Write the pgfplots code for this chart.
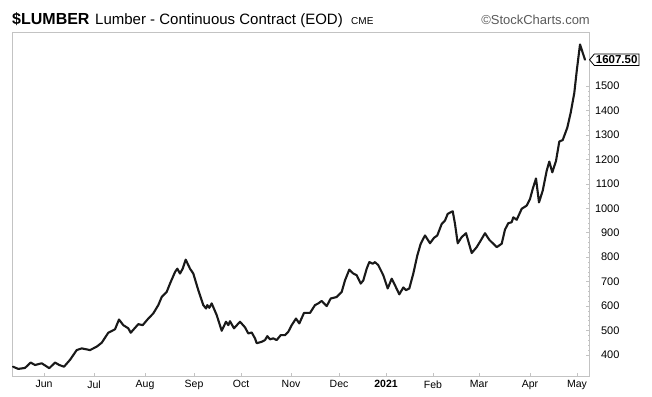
\documentclass[border=0pt]{standalone}
\usepackage{fontspec}
\setmainfont{Liberation Sans}
\usepackage{pgfplots}
\pgfplotsset{compat=1.18}
\usetikzlibrary{shapes.symbols}
\definecolor{framegray}{RGB}{195,195,195}
\definecolor{scgray}{RGB}{90,90,90}
\begin{document}
\begin{tikzpicture}
\begin{axis}[
  scale only axis, width=577pt, height=344pt,
  xmin=12, xmax=589, ymin=314, ymax=1721,
  clip=false,
  axis line style={framegray, line width=0.8pt},
  tick style={framegray, line width=0.6pt},
  major tick length=3pt, minor tick length=1.5pt,
  xtick pos=lower, ytick pos=upper, yticklabel pos=upper,
  xtick={44,94,145,194,241,291,339,386,433,479,530,577},
  xticklabels={Jun,Jul,Aug,Sep,Oct,Nov,Dec,\textbf{2021},Feb,Mar,Apr,May},
  ytick={400,500,...,1500},
  minor y tick num=4,
  /pgf/number format/assume math mode=true,
  /pgf/number format/1000 sep={},
  xticklabel style={font=\fontsize{10.5}{10.5}\selectfont, yshift=-1pt},
  yticklabel style={font=\fontsize{11}{11}\selectfont, anchor=east, xshift=34pt},
]
\addplot[black!90, line width=2.1pt, line join=round, line cap=round] coordinates {
(13,352) (18.3,343) (25,347) (30.7,369) (35,359) (41.7,366) (49.3,346) (55,369) (59.3,359) (64,352)
(70,380) (76.7,420) (81.7,427) (90,420) (96.7,434) (101.7,450) (108.3,491) (115,505) (119,545) (123.3,522)
(128.3,509) (130.7,491) (138.3,526) (142.7,522) (148.3,549) (153.3,570) (158.3,604) (161.7,637) (166.7,658) (170,692)
(175,739) (177.3,753) (180,733) (182.7,753) (185.7,790) (190,753) (193.3,733) (198.3,665) (203.3,604) (206,590)
(207.3,604) (209.3,593) (211.7,611) (216.7,563) (221.7,499) (226,536) (228.3,522) (230,538) (234,509) (240,536)
(245,513) (248.3,488) (251.7,492) (255,468) (256.7,448) (261.7,454) (265,461) (267.3,477) (270,464) (273.3,468)
(276.7,461) (280.7,481) (285,481) (288.3,495) (291.7,522) (296,549) (299.3,529) (304,572) (310,572) (315,604)
(318.3,611) (321.7,621) (326.7,600) (330.7,631) (336.7,637) (341.7,658) (345,705) (349.3,749) (353.3,733) (356.7,726)
(360.7,692) (363.3,705) (366.7,753) (369.3,780) (372.7,773) (375,780) (378.3,767) (383.3,726) (387.7,672) (391.7,712)
(395,685) (399.3,648) (403.3,676) (406,665) (409.3,672) (413.3,733) (417.3,807) (420.7,855) (425,889) (430,857)
(434,879) (437.3,889) (441.7,936) (445,950) (447.7,977) (452.7,988) (455,936) (457.7,857) (461.7,882) (466,898)
(471.7,817) (476.7,841) (480.7,868) (485,898) (489.3,871) (496.7,841) (501.7,855) (505,913) (508.3,939) (511.7,943)
(513.3,963) (516.7,953) (521.7,998) (526.7,1011) (530,1038) (532.7,1079) (536,1122) (539,1024) (542.7,1072) (546.7,1154)
(549.3,1191) (552.3,1147) (556,1194) (559.3,1273) (562.7,1279) (567.3,1330) (570.7,1391) (574.3,1472) (576.7,1561) (580,1670)
(585,1607.5)
};
\node[signal, signal to=west, signal pointer angle=100, draw=black, line width=0.8pt, fill=white,
  font=\bfseries\fontsize{11.5}{11.5}\selectfont, inner sep=1.6pt, anchor=west] at (axis cs:589,1607.5) {1607.50};
\end{axis}
\pgfresetboundingbox
\path[use as bounding box] ([xshift=-12pt,yshift=-20pt]current axis.south west) rectangle ([xshift=640pt,yshift=376pt]current axis.south west);
\node[anchor=base west, inner sep=0, font=\bfseries\fontsize{16}{16}\selectfont] at ([yshift=7pt]current axis.north west) {\$LUMBER};
\node[anchor=base west, inner sep=0, font=\fontsize{15}{15}\selectfont] at ([xshift=83pt,yshift=7pt]current axis.north west) {Lumber - Continuous Contract (EOD)};
\node[anchor=base west, inner sep=0, font=\fontsize{10}{10}\selectfont] at ([xshift=339pt,yshift=7pt]current axis.north west) {CME};
\node[anchor=base east, inner sep=0, font=\fontsize{13}{13}\selectfont, text=scgray] at ([xshift=1pt,yshift=7pt]current axis.north east) {\textcopyright StockCharts.com};
\end{tikzpicture}
\end{document}
